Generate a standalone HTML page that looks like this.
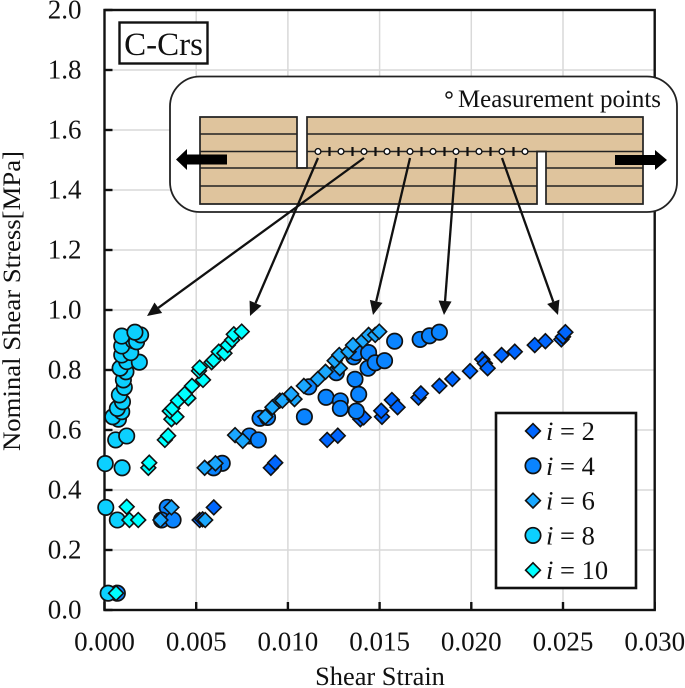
<!DOCTYPE html>
<html>
<head>
<meta charset="utf-8">
<title>Nominal Shear Stress vs Shear Strain</title>
<style>
html,body{margin:0;padding:0;background:#fff;}
svg{display:block;font-family:"Liberation Serif",serif;filter:blur(0.35px);}
text{fill:#111;}
</style>
</head>
<body>
<svg id="chart" xmlns="http://www.w3.org/2000/svg" width="685" height="688" viewBox="0 0 685 688"></svg>
<script>
const xTicks = ["0.000","0.005","0.010","0.015","0.020","0.025","0.030"];
const yTicks = ["0.0","0.2","0.4","0.6","0.8","1.0","1.2","1.4","1.6","1.8","2.0"];

const strainI2 = [0.00067,0.00519,0.00535,0.00596,0.00907,0.00931,0.01214,0.01272,0.01395,0.01413,0.01513,0.01509,0.01567,0.01598,0.01712,0.01725,0.01826,0.01897,0.01993,0.0206,0.02074,0.02089,0.02165,0.02237,0.02346,0.02404,0.02491,0.025,0.02513];
const stressI2 = [0.056,0.3,0.302,0.342,0.474,0.491,0.567,0.581,0.636,0.642,0.644,0.664,0.7,0.676,0.708,0.722,0.747,0.77,0.796,0.836,0.822,0.806,0.85,0.861,0.883,0.896,0.902,0.911,0.926];

const strainI4 = [0.0007,0.00342,0.00311,0.00374,0.00642,0.00595,0.0079,0.00839,0.00848,0.00889,0.0109,0.01114,0.01208,0.01286,0.01286,0.01373,0.01386,0.01366,0.01264,0.01359,0.01373,0.0144,0.01437,0.01476,0.01527,0.01582,0.01721,0.01772,0.01826];
const stressI4 = [0.056,0.342,0.3,0.3,0.489,0.474,0.58,0.567,0.639,0.642,0.644,0.744,0.709,0.697,0.672,0.663,0.719,0.769,0.791,0.844,0.858,0.858,0.806,0.824,0.831,0.896,0.902,0.914,0.926];

const strainI6 = [0.0006,0.00305,0.00549,0.00365,0.00546,0.00605,0.00712,0.00754,0.00877,0.00916,0.00956,0.0097,0.01036,0.01018,0.01087,0.01163,0.01205,0.01283,0.01255,0.0128,0.01331,0.01355,0.01409,0.0144,0.01476,0.01498];
const stressI6 = [0.056,0.3,0.3,0.342,0.474,0.489,0.583,0.564,0.644,0.676,0.698,0.698,0.703,0.72,0.747,0.77,0.794,0.806,0.831,0.85,0.861,0.883,0.898,0.917,0.917,0.928];

const strainI8 = [0.0002,0.0007,0.00007,0.00096,0.00004,0.00061,0.00121,0.00076,0.00045,0.00094,0.0007,0.00098,0.00081,0.00108,0.00103,0.00117,0.00085,0.00121,0.00094,0.0019,0.00143,0.00094,0.00157,0.00175,0.00197,0.00094,0.00166];
const stressI8 = [0.056,0.3,0.342,0.474,0.488,0.567,0.58,0.636,0.644,0.661,0.672,0.694,0.717,0.742,0.767,0.794,0.806,0.828,0.85,0.826,0.858,0.88,0.898,0.894,0.917,0.913,0.926];

const strainI10 = [0.00063,0.00136,0.00184,0.00121,0.00239,0.00244,0.00329,0.00347,0.00365,0.00392,0.00356,0.0037,0.00401,0.00457,0.00437,0.00477,0.00537,0.00515,0.00519,0.00584,0.00595,0.00623,0.00654,0.00672,0.00696,0.00705,0.00748];
const stressI10 = [0.056,0.3,0.3,0.344,0.474,0.491,0.567,0.581,0.636,0.644,0.663,0.672,0.698,0.706,0.72,0.747,0.767,0.797,0.808,0.826,0.833,0.861,0.856,0.883,0.9,0.919,0.928];

const svg = document.getElementById('chart');
const NS = 'http://www.w3.org/2000/svg';
const xMin = 0, xMax = 0.03, yMin = 0, yMax = 2;
const plotL = 104.5, plotR = 654.7, plotT = 10, plotB = 610;
function sx(v){ return plotL + (v - xMin) / (xMax - xMin) * (plotR - plotL); }
function sy(v){ return plotB - (v - yMin) / (yMax - yMin) * (plotB - plotT); }
function mk(tag, attrs, parent){
  const el = document.createElementNS(NS, tag);
  for (const k in attrs) el.setAttribute(k, attrs[k]);
  (parent || svg).appendChild(el);
  return el;
}

// gridlines
const gridGroup = mk('g', {stroke:'#d9d9d9','stroke-width':1.5});


xTicks.forEach(function(t){
  const gx = sx(parseFloat(t));
  const el = mk('line', {x1:gx,x2:gx,y1:plotT,y2:plotB}, gridGroup);
  
  
});
yTicks.forEach(function(t){
  const gy = sy(parseFloat(t));
  const el = mk('line', {x1:plotL,x2:plotR,y1:gy,y2:gy}, gridGroup);
  
  
});

// plot frame
const frame = mk('rect', {x:plotL,y:plotT,width:plotR-plotL,height:plotB-plotT,fill:'none',stroke:'#111','stroke-width':2.4});



// ticks and labels
xTicks.forEach(function(t){
  const gx = sx(parseFloat(t));
  const tick = mk('line', {x1:gx,x2:gx,y1:plotB,y2:plotB-8,stroke:'#111','stroke-width':2.4});
  
  
  const label = mk('text', {x:gx,y:650.5,'text-anchor':'middle','font-size':27});
  
  
  label.textContent = t;
});
yTicks.forEach(function(t){
  const gy = sy(parseFloat(t));
  const tick = mk('line', {x1:plotL,x2:plotL+8,y1:gy,y2:gy,stroke:'#111','stroke-width':2.4});
  
  
  const label = mk('text', {x:81.5,y:gy+8.5,'text-anchor':'end','font-size':27});
  
  
  label.textContent = t;
});

// axis titles
const xTitle = mk('text', {x:380,y:685,'text-anchor':'middle','font-size':26.4});


xTitle.textContent = 'Shear Strain';
const yTitle = mk('text', {x:0,y:0,'text-anchor':'middle','font-size':25,transform:'translate(20,301) rotate(-90)',textLength:300,lengthAdjust:'spacingAndGlyphs'});


yTitle.textContent = 'Nominal Shear Stress[MPa]';

// markers
function drawMarker(kind, cx, cy, fill, parent){
  if (kind === 'circle') {
    return mk('circle', {cx:cx,cy:cy,r:7.7,fill:fill,stroke:'#111','stroke-width':1.7}, parent);
  }
  const d = 7.4;
  return mk('polygon', {points:(cx-d)+','+cy+' '+cx+','+(cy-d)+' '+(cx+d)+','+cy+' '+cx+','+(cy+d),fill:fill,stroke:'#111','stroke-width':1.6}, parent);
}
function drawSeries(name, kind, fill, xs, ys){
  const g = mk('g', {});
  
  
  xs.forEach(function(v, i){
    const m = drawMarker(kind, sx(v), sy(ys[i]), fill, g);
    
    
  });
}
drawSeries('series-i-2', 'diamond', '#0066ff', strainI2, stressI2);
drawSeries('series-i-4', 'circle', '#0a84ff', strainI4, stressI4);
drawSeries('series-i-6', 'diamond', '#1aa8ff', strainI6, stressI6);
drawSeries('series-i-8', 'circle', '#0cd0ff', strainI8, stressI8);
drawSeries('series-i-10', 'diamond', '#00ffff', strainI10, stressI10);

// specimen inset
const inset = mk('g', {});


const insetBox = mk('rect', {x:170,y:76.5,width:507,height:135.5,rx:30,ry:30,fill:'#fff',stroke:'#222','stroke-width':1.8}, inset);


const wood = mk('path', {d:'M200 117H297V168H307V117H643V204H546V151.5H537V204H200Z',fill:'#dfc49d',stroke:'#222','stroke-width':1.7}, inset);


const layerLines = mk('path', {d:'M200 134H297M307 134H643M200 151.5H297M307 151.5H643M200 168H537M546 168H643M200 186H537M546 186H643',fill:'none',stroke:'#222','stroke-width':1.6}, inset);


const leftArrow = mk('polygon', {points:'227,154.5 187,154.5 187,149 176,159.5 187,170 187,164.5 227,164.5',fill:'#000'}, inset);


const rightArrow = mk('polygon', {points:'615,155 655,155 655,150 667,160 655,170 655,165 615,165',fill:'#000'}, inset);


for (let n = 0; n < 10; n++) {
  const px = 318 + n * 23;
  if (n < 9) {
    const bar = mk('line', {x1:px+11.5,x2:px+11.5,y1:147,y2:156,stroke:'#111','stroke-width':2.2}, inset);
    
    
  }
  const dot = mk('circle', {cx:px,cy:151.5,r:2.9,fill:'#fff',stroke:'#111','stroke-width':1.4}, inset);
  
  
}
const keyDot = mk('circle', {cx:449,cy:95,r:3,fill:'#fff',stroke:'#111','stroke-width':1.4}, inset);


const keyText = mk('text', {x:458,y:107,'font-size':25.5,textLength:203,lengthAdjust:'spacingAndGlyphs'}, inset);


keyText.textContent = 'Measurement points';

// annotation arrows
function callout(x1, y1, x2, y2){
  const len = Math.hypot(x2-x1, y2-y1), ux = (x2-x1)/len, uy = (y2-y1)/len;
  const bx = x2-ux*14, by = y2-uy*14, hw = 6.5;
  const g = mk('g', {});
  
  
  mk('line', {x1:x1,y1:y1,x2:bx,y2:by,stroke:'#111','stroke-width':2.3}, g);
  mk('polygon', {points:x2+','+y2+' '+(bx-uy*hw)+','+(by+ux*hw)+' '+(bx+uy*hw)+','+(by-ux*hw),fill:'#111'}, g);
}
callout(364,158,147,316);
callout(318,158,250,316);
callout(410,158,373,315);
callout(456,158,444,315);
callout(502,158,558,315);

// specimen label
const tag = mk('g', {});


mk('rect', {x:119.5,y:22.5,width:88,height:41,fill:'#fff',stroke:'#111','stroke-width':2.4}, tag);
const tagText = mk('text', {x:163.5,y:55,'text-anchor':'middle','font-size':33}, tag);


tagText.textContent = 'C-Crs';

// legend
const legendLabels = ['2','4','6','8','10'];
const legendKinds = ['diamond','circle','diamond','circle','diamond'];
const legendFills = ['#0066ff','#0a84ff','#1aa8ff','#0cd0ff','#00ffff'];
const legend = mk('g', {});


mk('rect', {x:496,y:413,width:140,height:175,fill:'#fff',stroke:'#111','stroke-width':2.6}, legend);
legendLabels.forEach(function(lab, i){
  const ly = 431 + i * 34.8;
  const entry = mk('g', {}, legend);
  
  
  drawMarker(legendKinds[i], 533, ly, legendFills[i], entry);
  const tx = mk('text', {x:546,y:ly+9,'font-size':26.5}, entry);
  const it = mk('tspan', {'font-style':'italic'}, tx);
  it.textContent = 'i';
  const rest = mk('tspan', {}, tx);
  rest.textContent = ' = ' + lab;
});
</script>
</body>
</html>
